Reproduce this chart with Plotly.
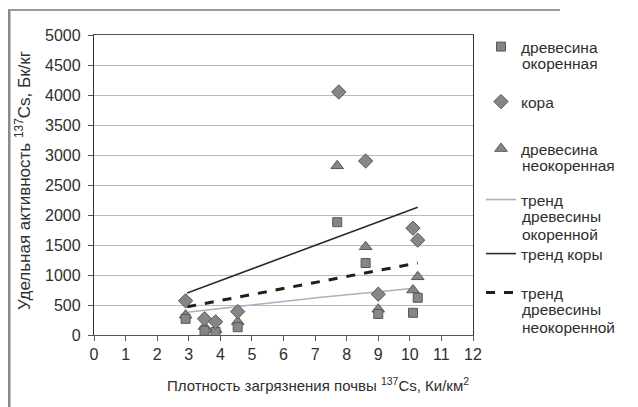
import plotly.graph_objects as go

# ---- data ----
sq_x = [2.9, 3.5, 3.85, 4.55, 7.7, 8.6, 9.0, 10.1, 10.25]
sq_y = [270, 70, 50, 130, 1880, 1200, 350, 370, 620]

di_x = [2.9, 3.5, 3.85, 4.55, 7.75, 8.6, 9.0, 10.1, 10.25]
di_y = [570, 270, 220, 390, 4050, 2900, 680, 1780, 1580]

tr_x = [2.9, 3.5, 3.85, 4.55, 7.7, 8.6, 9.0, 10.1, 10.25]
tr_y = [330, 140, 90, 220, 2820, 1470, 430, 750, 970]

trend_sq_x = [2.95, 5.3, 7.2, 10.15]
trend_sq_y = [380, 520, 630, 780]
trend_di_x = [2.95, 10.25]
trend_di_y = [700, 2130]
trend_tr_x = [2.95, 10.25]
trend_tr_y = [470, 1200]

x_ticks = list(range(0, 13))
y_ticks = list(range(0, 5001, 500))

# legend labels: first line goes into the legend, the rest are extra lines
legend_lines = [
    ["древесина", "окоренная"],
    ["кора"],
    ["древесина", "неокоренная"],
    ["тренд", "древесины", "окоренной"],
    ["тренд коры"],
    ["тренд", "древесины", "неокоренной"],
]

FONT = "Liberation Sans, Arial, sans-serif"
TXT = "#2e2e2e"
W, H = 638, 407
OFF = 8  # page body margin
# plot area in screen pixels
SL, SR, ST, SB = 94, 473, 35, 335
L, R, T, B = SL - OFF, SR - OFF, ST - OFF, SB - OFF
mfill = "#868686"
mline = "#585858"


def px(s):
    return (s - SL) / (SR - SL)


def py(s):
    return (SB - s) / (SB - ST)


fig = go.Figure()
fig.add_trace(go.Scatter(x=trend_sq_x, y=trend_sq_y, mode="lines", name=legend_lines[3][0],
                         line=dict(color="#a9b0c2", width=1.6), legend="legend4"))
fig.add_trace(go.Scatter(x=trend_di_x, y=trend_di_y, mode="lines", name=legend_lines[4][0],
                         line=dict(color="#2a2a2a", width=1.6), legend="legend5"))
fig.add_trace(go.Scatter(x=trend_tr_x, y=trend_tr_y, mode="lines", name=legend_lines[5][0],
                         line=dict(color="#1e1e1e", width=3, dash="dash"), legend="legend6"))
fig.add_trace(go.Scatter(x=tr_x, y=tr_y, mode="markers", name=legend_lines[2][0],
                         marker=dict(symbol="triangle-up", size=11, color=mfill,
                                     line=dict(color=mline, width=1)), legend="legend3"))
fig.add_trace(go.Scatter(x=sq_x, y=sq_y, mode="markers", name=legend_lines[0][0],
                         marker=dict(symbol="square", size=9, color=mfill,
                                     line=dict(color=mline, width=1)), legend="legend"))
fig.add_trace(go.Scatter(x=di_x, y=di_y, mode="markers", name=legend_lines[1][0],
                         marker=dict(symbol="diamond", size=11, color=mfill,
                                     line=dict(color=mline, width=1)), legend="legend2"))

LEG_FS = 15.5
first_line_y = [46, 101, 148, 199, 253, 292]   # screen centre of first text line
line_step = 17.5
leg_offset = 24
legends = {}
annotations = []
for i, (cy, lines) in enumerate(zip(first_line_y, legend_lines)):
    key = "legend" if i == 0 else f"legend{i+1}"
    legends[key] = dict(xref="container", yref="container", x=473 / W, xanchor="left",
                        y=1 - (cy - leg_offset) / H, yanchor="top",
                        bgcolor="rgba(0,0,0,0)", valign="middle",
                        font=dict(family=FONT, size=LEG_FS, color=TXT), itemwidth=30)
    for j, extra in enumerate(lines[1:], start=1):
        annotations.append(dict(xref="paper", yref="paper", x=px(521), y=py(cy + j * line_step),
                                xanchor="left", yanchor="middle", showarrow=False,
                                borderpad=0,
                                text=extra, font=dict(family=FONT, size=LEG_FS, color=TXT)))

annotations.append(dict(xref="paper", yref="paper", x=px(318), y=py(384),
                        xanchor="center", yanchor="middle", showarrow=False,
                        text="Плотность загрязнения почвы <sup>137</sup>Cs, Ки/км<sup>2</sup>",
                        font=dict(family=FONT, size=15, color=TXT)))
annotations.append(dict(xref="paper", yref="paper", x=px(23), y=py(181),
                        xanchor="center", yanchor="middle", showarrow=False, textangle=-90,
                        text="Удельная активность <sup>137</sup>Cs, Бк/кг",
                        font=dict(family=FONT, size=17, color=TXT)))

fig.update_layout(
    width=W, height=H, autosize=False,
    margin=dict(l=L, r=W - R, t=T, b=H - B, autoexpand=False),
    paper_bgcolor="white", plot_bgcolor="white",
    font=dict(family=FONT, size=16, color=TXT),
    showlegend=True,
    **legends,
    annotations=annotations,
    xaxis=dict(range=[0, 12], tickvals=x_ticks, ticks="outside", ticklen=5,
               tickcolor="#555", showline=True, linecolor="#555", linewidth=1,
               mirror=True, showgrid=False, zeroline=False,
               tickfont=dict(size=16, color=TXT)),
    yaxis=dict(range=[0, 5000], tickvals=y_ticks, ticks="outside", ticklen=5,
               tickcolor="#555", showline=True, linecolor="#333", linewidth=1.3,
               mirror=True, showgrid=True, gridcolor="#b9b9bd", gridwidth=1,
               zeroline=False, tickfont=dict(size=16, color=TXT), ticklabelstandoff=4),
    shapes=[
        dict(type="line", xref="paper", yref="paper", x0=px(8), x1=px(560),
             y0=py(10), y1=py(10), line=dict(color="#9a9a9a", width=2), layer="above"),
        dict(type="line", xref="paper", yref="paper", x0=px(9), x1=px(9),
             y0=py(10), y1=py(407), line=dict(color="#8a8a8a", width=3), layer="above"),
    ],
)

fig.write_html("out.html")
